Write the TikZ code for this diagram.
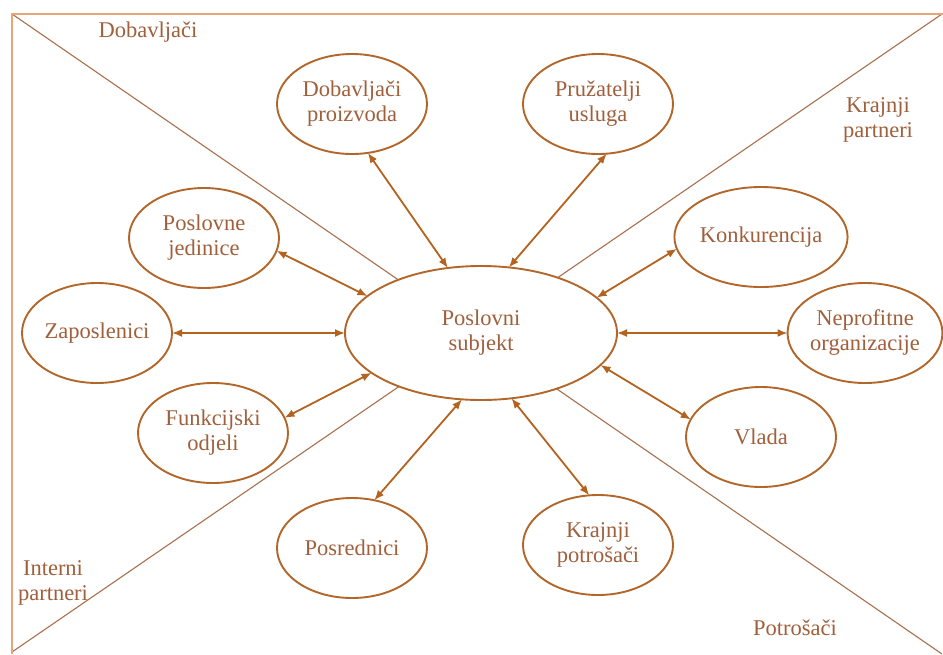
\documentclass[tikz,border=0pt]{standalone}
\usepackage{fontspec}
\setmainfont{Liberation Serif}
\usetikzlibrary{shapes.geometric,arrows.meta}
\definecolor{ell}{HTML}{B3662A}
\definecolor{txt}{HTML}{A0603C}
\definecolor{frm}{HTML}{E8A57C}
\definecolor{dia}{HTML}{A8714E}
\definecolor{arr}{HTML}{B5621F}
\begin{document}
\begin{tikzpicture}[x=1pt,y=-1pt,
  small/.style={ellipse,draw=ell,line width=1.9pt,fill=white,minimum width=150pt,minimum height=100pt,inner sep=0pt,outer sep=0pt,text=txt,font=\fontsize{22.5}{25}\selectfont,align=center},
  big/.style={small,minimum width=272pt,minimum height=134pt},
  lbl/.style={text=txt,font=\fontsize{22.5}{25}\selectfont,align=center,inner sep=0pt},
  frame/.style={draw=frm,line width=2pt},
  diag/.style={draw=dia,line width=1.1pt},
  link/.style={draw=arr,line width=1.8pt,{Latex[length=10pt,width=8pt]}-{Latex[length=10pt,width=8pt]}}]
\useasboundingbox (0,0) rectangle (943,654);
\fill[white] (0,0) rectangle (943,654);
% frame and diagonals
\coordinate (tl) at (12,14);
\coordinate (tr) at (943,14);
\coordinate (bl) at (12,654);
\coordinate (d1) at (942,654);
\coordinate (d2) at (12,652);
\coordinate (d3) at (942,14);
\draw[diag] (tl) -- (d1);
\draw[diag] (d2) -- (d3);
\draw[frame] (tr) -- (tl) -- (bl);
% region labels
\node[lbl] (l1) at (148,32) {Dobavljači};
\node[lbl] (l2) at (878,120) {Krajnji\\partneri};
\node[lbl] (l3) at (53,583) {Interni\\partneri};
\node[lbl] (l4) at (795,628) {Potrošači};
% nodes
\node[small] (dp) at (352,104) {Dobavljači\\proizvoda};
\node[small] (pu) at (598,104) {Pružatelji\\usluga};
\node[small] (pj) at (204,238) {Poslovne\\jedinice};
\node[small] (za) at (97,333) {Zaposlenici};
\node[small] (fo) at (213,433) {Funkcijski\\odjeli};
\node[small] (ko) at (761,237) {Konkurencija};
\node[small] (no) at (865,333) {Neprofitne\\organizacije};
\node[small] (vl) at (761,437) {Vlada};
\node[small] (po) at (352,548) {Posrednici};
\node[small] (kp) at (598,545) {Krajnji\\potrošači};
\node[big] (ps) at (481,333) {Poslovni\\subjekt};
% links
\draw[link] (dp.-72) -- (ps.117);
\draw[link] (pu.-80) -- (ps.67);
\draw[link] (pj.-10) -- (ps.162);
\draw[link] (za.east) -- (ps.west);
\draw[link] (fo.12) -- (ps.200);
\draw[link] (ko.188) -- (ps.17);
\draw[link] (no.west) -- (ps.east);
\draw[link] (vl.166) -- (ps.-15);
\draw[link] (po.65) -- (ps.-106);
\draw[link] (kp.100) -- (ps.-65);
\end{tikzpicture}
\end{document}
